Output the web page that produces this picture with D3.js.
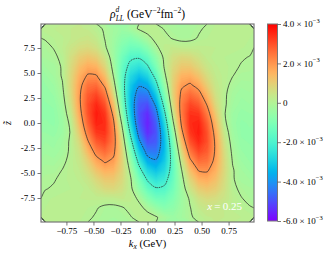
<!DOCTYPE html>
<html>
<head>
<meta charset="utf-8">
<style>
  body { margin: 0; background: #fff; }
  text { font-family: "Liberation Serif", "Times New Roman", serif; fill: #000; }
</style>
</head>
<body>
<svg id="chart" width="335" height="258"></svg>
<script src="https://cdn.jsdelivr.net/npm/d3@7"></script>
<script>
// plotted window
const kRange = [-0.985, 0.985];   // GeV
const zRange = [-9.9, 9.9];
const xTicks = [-0.75, -0.5, -0.25, 0, 0.25, 0.5, 0.75];
const yTicks = [-7.5, -5, -2.5, 0, 2.5, 5, 7.5];
const cbTicks = [4, 2, 0, -2, -4, -6];          // x 1e-3
const colorRange = [-6, 4];                     // x 1e-3
const lineLevels = [-4, -2, 0, 2];              // x 1e-3

// rho^d_LL sampled on 25 k-columns (k = -0.946 ... 0.946, step 0.0788)
// and 21 z-rows, listed top (z = 9.43) to bottom (z = -9.43), in 1e-3 GeV^-2 fm^-2
const rho = [
  [0.15,0.20,0.25,0.30,0.32,0.28,0.12,-0.06,-0.30,-0.45,-0.25,0.06,0.20,0.15,-0.03,-0.15,-0.20,-0.16,-0.05,0.06,0.12,0.15,0.15,0.14,0.12],
  [0.03,0.10,0.18,0.30,0.40,0.45,0.30,-0.02,-0.35,-0.70,-0.85,-0.55,-0.15,0.15,0.12,-0.04,-0.12,-0.10,0.03,0.10,0.14,0.14,0.13,0.12,0.10],
  [-0.10,0.02,0.20,0.45,0.65,0.72,0.55,0.08,-0.40,-0.95,-1.30,-1.25,-0.80,-0.10,0.25,0.32,0.25,0.24,0.24,0.22,0.20,0.17,0.14,0.11,0.08],
  [-0.18,-0.08,0.10,0.61,1.01,1.18,1.01,0.47,-0.36,-1.23,-1.81,-1.90,-1.45,-0.64,0.16,0.59,0.78,0.73,0.50,0.25,0.14,0.10,0.07,0.03,-0.01],
  [-0.30,-0.25,0.06,0.71,1.30,1.62,1.50,0.84,-0.23,-1.42,-2.29,-2.55,-2.09,-1.07,0.09,0.76,1.12,1.11,0.80,0.42,0.22,0.14,0.06,-0.02,-0.06],
  [-0.42,-0.29,0.05,0.79,1.57,2.09,2.05,1.32,-0.02,-1.53,-2.75,-3.26,-2.84,-1.66,-0.14,0.90,1.50,1.58,1.23,0.68,0.30,0.16,0.01,-0.14,-0.14],
  [-0.51,-0.40,-0.05,0.79,1.78,2.52,2.62,1.87,0.35,-1.51,-3.11,-3.92,-3.63,-2.34,-0.52,0.96,1.88,2.11,1.73,1.00,0.40,0.14,-0.12,-0.27,-0.24],
  [-0.57,-0.49,-0.15,0.71,1.88,2.83,3.13,2.45,0.80,-1.35,-3.31,-4.47,-4.38,-3.07,-1.02,0.91,2.19,2.64,2.31,1.44,0.55,0.10,-0.25,-0.38,-0.32],
  [-0.61,-0.58,-0.26,0.56,1.85,3.00,3.51,2.96,1.31,-1.05,-3.32,-4.84,-5.02,-3.79,-1.60,0.69,2.37,3.10,2.85,1.92,0.76,0.10,-0.30,-0.45,-0.40],
  [-0.62,-0.62,-0.36,0.36,1.68,2.97,3.67,3.33,1.79,-0.63,-3.12,-4.96,-5.46,-4.39,-2.19,0.33,2.36,3.39,3.31,2.38,1.09,0.05,-0.40,-0.55,-0.50],
  [-0.58,-0.63,-0.42,0.14,1.42,2.75,3.60,3.47,2.16,-0.13,-2.73,-4.81,-5.60,-4.81,-2.73,-0.13,2.16,3.47,3.60,2.75,1.42,0.14,-0.42,-0.63,-0.58],
  [-0.50,-0.55,-0.40,0.05,1.09,2.38,3.31,3.39,2.36,0.33,-2.19,-4.39,-5.46,-4.96,-3.12,-0.63,1.79,3.33,3.67,2.97,1.68,0.36,-0.36,-0.62,-0.62],
  [-0.40,-0.45,-0.30,0.10,0.76,1.92,2.85,3.10,2.37,0.69,-1.60,-3.79,-5.02,-4.84,-3.32,-1.05,1.31,2.96,3.51,3.00,1.85,0.56,-0.26,-0.58,-0.61],
  [-0.32,-0.38,-0.25,0.10,0.55,1.44,2.31,2.64,2.19,0.91,-1.02,-3.07,-4.38,-4.47,-3.31,-1.35,0.80,2.45,3.13,2.83,1.88,0.71,-0.15,-0.49,-0.57],
  [-0.24,-0.27,-0.12,0.14,0.40,1.00,1.73,2.11,1.88,0.96,-0.52,-2.34,-3.63,-3.92,-3.11,-1.51,0.35,1.87,2.62,2.52,1.78,0.79,-0.05,-0.40,-0.51],
  [-0.14,-0.14,0.01,0.16,0.30,0.68,1.23,1.58,1.50,0.90,-0.14,-1.66,-2.84,-3.26,-2.75,-1.53,-0.02,1.32,2.05,2.09,1.57,0.79,0.05,-0.29,-0.42],
  [-0.06,-0.02,0.06,0.14,0.22,0.42,0.80,1.11,1.12,0.76,0.09,-1.07,-2.09,-2.55,-2.29,-1.42,-0.23,0.84,1.50,1.62,1.30,0.71,0.06,-0.25,-0.30],
  [-0.01,0.03,0.07,0.10,0.14,0.25,0.50,0.73,0.78,0.59,0.16,-0.64,-1.45,-1.90,-1.81,-1.23,-0.36,0.47,1.01,1.18,1.01,0.61,0.10,-0.08,-0.18],
  [0.08,0.11,0.14,0.17,0.20,0.22,0.24,0.24,0.25,0.32,0.25,-0.10,-0.80,-1.25,-1.30,-0.95,-0.40,0.08,0.55,0.72,0.65,0.45,0.20,0.02,-0.10],
  [0.10,0.12,0.13,0.14,0.14,0.10,0.03,-0.10,-0.12,-0.04,0.12,0.15,-0.15,-0.55,-0.85,-0.70,-0.35,-0.02,0.30,0.45,0.40,0.30,0.18,0.10,0.03],
  [0.12,0.14,0.15,0.15,0.12,0.06,-0.05,-0.16,-0.20,-0.15,-0.03,0.15,0.20,0.06,-0.25,-0.45,-0.30,-0.06,0.12,0.28,0.32,0.30,0.25,0.20,0.15]
];

const nk = rho[0].length, nz = rho.length;
const dk = (kRange[1] - kRange[0]) / nk;
const dz = (zRange[1] - zRange[0]) / nz;

const plot = { left: 41, right: 254, top: 24, bottom: 222 };
const x = d3.scaleLinear().domain(kRange).range([plot.left, plot.right]);
const y = d3.scaleLinear().domain(zRange).range([plot.bottom, plot.top]);

// matplotlib "rainbow"
function rainbow(t) {
  t = Math.max(0, Math.min(1, t));
  const r = Math.min(1, Math.abs(2 * t - 0.5));
  const g = Math.sin(Math.PI * t);
  const b = Math.cos(Math.PI * t / 2);
  return d3.rgb(r * 255, g * 255, b * 255).formatHex();
}
const color = v => rainbow((v - colorRange[0]) / (colorRange[1] - colorRange[0]));

const svg = d3.select("#chart");

svg.append("defs").append("clipPath").attr("id", "clip")
  .append("rect")
  .attr("x", plot.left).attr("y", plot.top)
  .attr("width", plot.right - plot.left).attr("height", plot.bottom - plot.top);

// grid coords -> pixels
const gx = c => x(kRange[0] + c * dk);
const gy = r => y(zRange[1] - r * dz);
const path = d3.geoPath(d3.geoTransform({
  point(px, py) { this.stream.point(gx(px), gy(py)); }
}));

const flat = rho.flat();
const step = 0.1;
const fillLevels = d3.range(colorRange[0], colorRange[1] + 1e-9, step);

const field = svg.append("g").attr("clip-path", "url(#clip)");
field.selectAll("path.band")
  .data(d3.contours().size([nk, nz]).thresholds(fillLevels)(flat))
  .join("path")
  .attr("class", "band")
  .attr("d", path)
  .attr("fill", d => color(d.value + step / 2));

// contour lines (drop the pieces that run along the grid border)
function sameSide(a, b) {
  return (a[0] === 0 && b[0] === 0) || (a[0] === nk && b[0] === nk) ||
         (a[1] === 0 && b[1] === 0) || (a[1] === nz && b[1] === nz);
}
function ringRuns(ring) {
  let pts = ring.slice();
  const f = pts[0], l = pts[pts.length - 1];
  if (f[0] === l[0] && f[1] === l[1]) pts.pop();
  const n = pts.length;
  let start = -1;
  for (let i = 0; i < n; i++) {
    if (sameSide(pts[i], pts[(i + 1) % n])) { start = (i + 1) % n; break; }
  }
  if (start < 0) return [{ pts, closed: true }];
  const runs = [];
  let cur = [pts[start]];
  for (let s = 0; s < n; s++) {
    const i = (start + s) % n, j = (i + 1) % n;
    if (sameSide(pts[i], pts[j])) {
      if (cur.length > 1) runs.push({ pts: cur, closed: false });
      cur = [pts[j]];
    } else cur.push(pts[j]);
  }
  if (cur.length > 1) runs.push({ pts: cur, closed: false });
  return runs;
}

const lines = [];
lineLevels.forEach(level => {
  const c = d3.contours().size([nk, nz]).thresholds([level])(flat)[0];
  c.coordinates.forEach(poly => poly.forEach(ring => {
    ringRuns(ring).forEach(run => lines.push({ level, ...run }));
  }));
});

const lineGen = d3.line().x(p => gx(p[0])).y(p => gy(p[1]));
field.selectAll("path.iso")
  .data(lines)
  .join("path")
  .attr("class", "iso")
  .attr("d", d => lineGen.curve(d.closed ? d3.curveCatmullRomClosed : d3.curveCatmullRom)(d.pts))
  .attr("fill", "none")
  .attr("stroke", "#2a2a2a")
  .attr("stroke-width", 0.75)
  .attr("stroke-dasharray", d => d.level < 0 ? "1.6,0.8" : null);

// frame
svg.append("rect")
  .attr("x", plot.left).attr("y", plot.top)
  .attr("width", plot.right - plot.left).attr("height", plot.bottom - plot.top)
  .attr("fill", "none").attr("stroke", "#777").attr("stroke-width", 1.2);

// axes
const xAxis = svg.append("g")
  .attr("transform", `translate(0,${plot.bottom})`)
  .call(d3.axisBottom(x).tickValues(xTicks).tickFormat(d3.format(".2f")).tickSize(3.5).tickSizeOuter(0).tickPadding(2));
const yAxis = svg.append("g")
  .attr("transform", `translate(${plot.left},0)`)
  .call(d3.axisLeft(y).tickValues(yTicks).tickFormat(d => d.toFixed(1)).tickSize(3.5).tickSizeOuter(0).tickPadding(2.5));
[xAxis, yAxis].forEach(a => {
  a.select(".domain").remove();
  a.selectAll(".tick line").attr("stroke", "#555").attr("stroke-width", 0.8);
  a.selectAll(".tick text").attr("font-family", "Liberation Serif").attr("font-size", 9).attr("fill", "#000");
});

// axis labels
const xl = svg.append("text").attr("x", (plot.left + plot.right) / 2).attr("y", 246.5)
  .attr("text-anchor", "middle").attr("font-size", 10.5);
xl.append("tspan").attr("font-style", "italic").text("k");
xl.append("tspan").attr("font-style", "italic").attr("font-size", 7.5).attr("dy", 2).text("x");
xl.append("tspan").attr("dy", -2).text(" (GeV)");

svg.append("text")
  .attr("transform", `translate(10.5,${(plot.top + plot.bottom) / 2}) rotate(-90)`)
  .attr("text-anchor", "middle").attr("font-size", 10).attr("font-style", "italic")
  .text("z\u0303");

// title
const tt = svg.append("text").attr("x", (plot.left + plot.right) / 2).attr("y", 18)
  .attr("text-anchor", "middle").attr("font-size", 11.5);
tt.append("tspan").attr("font-style", "italic").text("\u03c1");
tt.append("tspan").attr("font-style", "italic").attr("font-size", 7.5).attr("dy", -6.5).text("d");
tt.append("tspan").attr("font-style", "italic").attr("font-size", 7.5).attr("dx", -3.5).attr("dy", 9.5).text("LL");
tt.append("tspan").attr("dy", -3).text(" (GeV");
tt.append("tspan").attr("font-size", 7.5).attr("dy", -5).text("\u22122");
tt.append("tspan").attr("dy", 5).text("fm");
tt.append("tspan").attr("font-size", 7.5).attr("dy", -5).text("\u22122");
tt.append("tspan").attr("dy", 5).text(")");

// annotation
const ann = svg.append("text").attr("x", 242).attr("y", 210)
  .attr("text-anchor", "end").attr("font-size", 11).style("fill", "#fff");
ann.append("tspan").attr("font-style", "italic").style("fill", "#fff").text("x");
ann.append("tspan").style("fill", "#fff").text("\u2009=\u20090.25");

// colorbar
const cb = { left: 267.5, right: 277.5, top: 24, bottom: 221 };
const cy = d3.scaleLinear().domain(colorRange).range([cb.bottom, cb.top]);
const grad = svg.select("defs").append("linearGradient")
  .attr("id", "cbgrad").attr("x1", 0).attr("y1", 1).attr("x2", 0).attr("y2", 0);
d3.range(0, 1.0001, 0.02).forEach(t => {
  grad.append("stop").attr("offset", t).attr("stop-color", rainbow(t));
});
svg.append("rect")
  .attr("x", cb.left).attr("y", cb.top)
  .attr("width", cb.right - cb.left).attr("height", cb.bottom - cb.top)
  .attr("fill", "url(#cbgrad)").attr("stroke", "#777").attr("stroke-width", 1);

const cbAxis = svg.append("g")
  .attr("transform", `translate(${cb.right},0)`)
  .call(d3.axisRight(cy).tickValues(cbTicks).tickFormat("").tickSize(3.5).tickSizeOuter(0));
cbAxis.select(".domain").remove();
cbAxis.selectAll(".tick line").attr("stroke", "#555").attr("stroke-width", 0.8);

cbTicks.forEach(v => {
  const t = svg.append("text").attr("x", cb.right + 5.5).attr("y", cy(v) + 3.2).attr("font-size", 9);
  if (v === 0) { t.text("0"); return; }
  t.append("tspan").text(`${v.toFixed(1)} \u00d7 10`);
  t.append("tspan").attr("font-size", 6.5).attr("dy", -4.5).text("\u22123");
});
</script>
</body>
</html>
